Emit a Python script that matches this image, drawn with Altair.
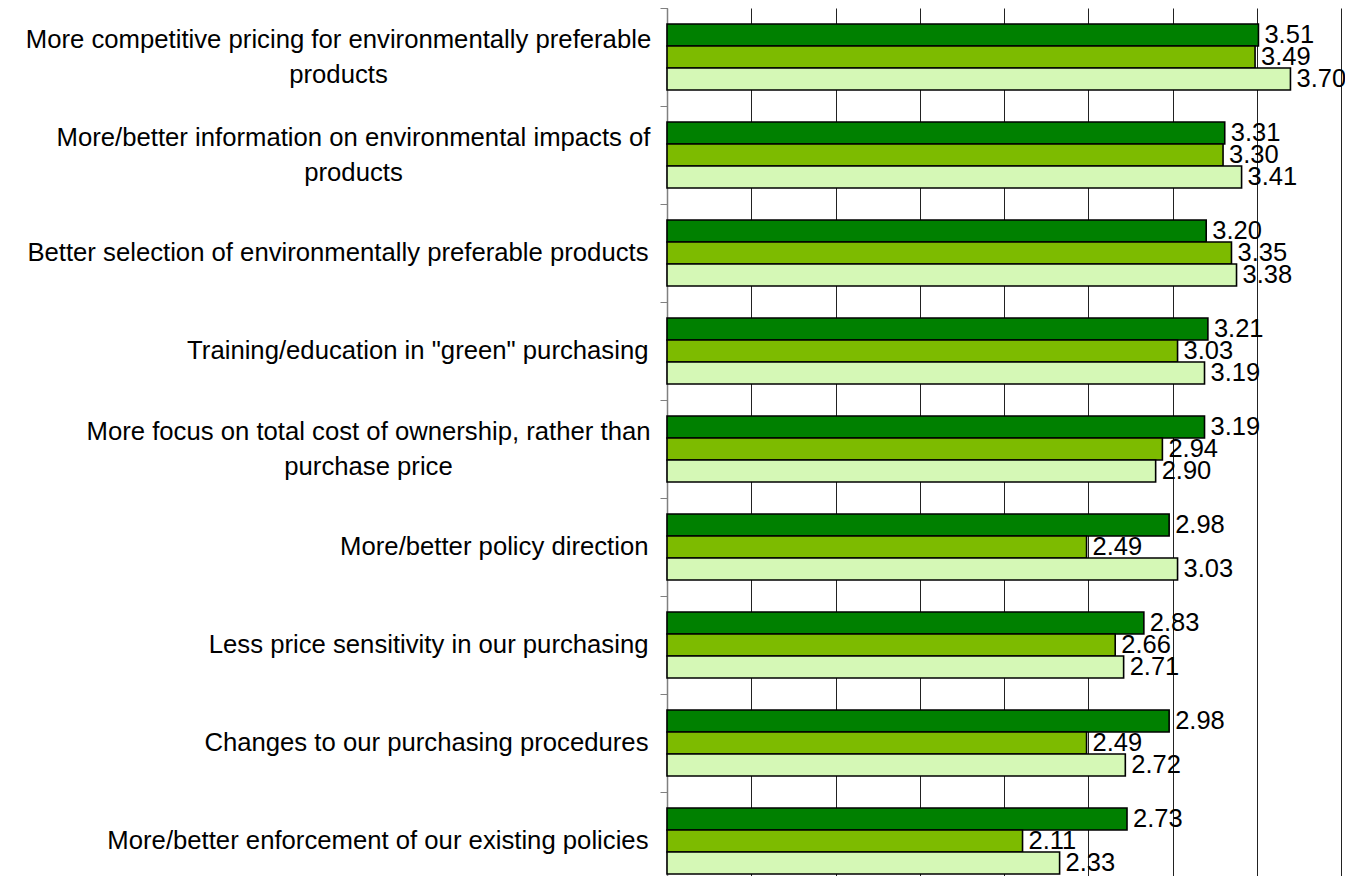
import altair as alt
import pandas as pd

categories = [
    "More competitive pricing for environmentally preferable|products",
    "More/better information on environmental impacts of|products",
    "Better selection of environmentally preferable products",
    'Training/education in "green" purchasing',
    "More focus on total cost of ownership, rather than|purchase price",
    "More/better policy direction",
    "Less price sensitivity in our purchasing",
    "Changes to our purchasing procedures",
    "More/better enforcement of our existing policies",
]
series = ["Series 1", "Series 2", "Series 3"]
series1 = [3.51, 3.31, 3.20, 3.21, 3.19, 2.98, 2.83, 2.98, 2.73]
series2 = [3.49, 3.30, 3.35, 3.03, 2.94, 2.49, 2.66, 2.49, 2.11]
series3 = [3.70, 3.41, 3.38, 3.19, 2.90, 3.03, 2.71, 2.72, 2.33]
colors = ["#008000", "#7DBB00", "#D5F8B6"]
grid_values = [0, 0.5, 1, 1.5, 2, 2.5, 3, 3.5, 4]

rows = []
for i, c in enumerate(categories):
    for s, vals in zip(series, [series1, series2, series3]):
        rows.append({"category": c, "series": s, "value": vals[i]})
df = pd.DataFrame(rows)

W, H = 674, 882
FONT = "Liberation Sans"
LINE_H = 35
multi = "indexof(datum.value, '|') >= 0"

label_align = {"condition": {"test": multi, "value": "center"}, "value": "right"}
label_offset = {"condition": {"test": multi, "value": -LINE_H / 2}, "value": 0}
label_padding = {
    "condition": [
        {"test": "indexof(datum.value, 'More competitive') >= 0", "value": 322},
        {"test": "indexof(datum.value, 'information on') >= 0", "value": 307},
        {"test": "indexof(datum.value, 'total cost') >= 0", "value": 292},
    ],
    "value": 12,
}

base = alt.Chart(df).encode(
    x=alt.X(
        "value:Q",
        scale=alt.Scale(domain=[0, 4], nice=False, zero=True),
        axis=alt.Axis(
            title=None, labels=False, ticks=False, domain=False,
            values=grid_values, grid=True, gridColor="#222222", gridWidth=1,
        ),
    ),
    y=alt.Y(
        "category:N",
        sort=categories,
        scale=alt.Scale(paddingInner=0, paddingOuter=0),
        axis=alt.Axis(
            title=None,
            bandPosition=0,
            labelOffset=label_offset,
            tickSize=7,
            tickColor="#808080",
            domainColor="#808080",
            domainWidth=1.5,
            labelExpr="split(datum.label, '|')",
            labelFont=FONT,
            labelFontSize=25.7,
            labelColor="black",
            labelLineHeight=LINE_H,
            labelAlign=label_align,
            labelPadding=label_padding,
            labelBaseline="middle",
            labelLimit=0,
            grid=False,
        ),
    ),
    yOffset=alt.YOffset(
        "series:N", sort=series,
        scale=alt.Scale(paddingInner=0, paddingOuter=0.73),
    ),
)

bars = base.mark_bar(stroke="black", strokeWidth=1.6).encode(
    color=alt.Color("series:N", scale=alt.Scale(domain=series, range=colors), legend=None)
)

labels = base.mark_text(
    align="left", baseline="middle", dx=6, font=FONT, fontSize=25.5, color="black"
).encode(text=alt.Text("value:Q", format=".2f"))

chart = alt.layer(bars, labels).properties(
    width=W,
    height=H,
    autosize=alt.AutoSizeParams(type="none"),
    padding={"left": 659, "top": 0, "right": 4, "bottom": -14},
).configure_view(stroke=None)

chart.save("out.html", embed_options={"renderer": "svg", "actions": False})
